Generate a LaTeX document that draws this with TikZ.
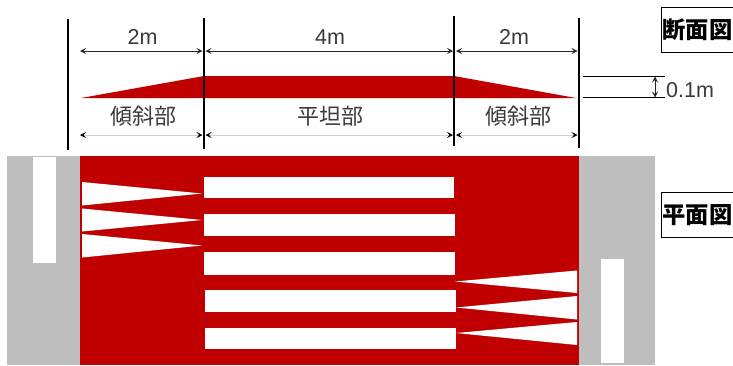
\documentclass[tikz,border=0pt]{standalone}
\usepackage{fontspec}
\setmainfont{Noto Sans CJK JP}
\newfontfamily\latinf{Liberation Sans}
\usetikzlibrary{arrows.meta}
\definecolor{roadred}{HTML}{C00000}
\definecolor{walkgrey}{HTML}{BEBEBE}
\definecolor{labelgrey}{HTML}{3A3A3A}
\tikzset{
  x=1bp,y=-1bp,
  wall/.style={line width=2bp,black},
  dim/.style={line width=0.7bp,black!85,{Stealth[length=6bp,width=6bp,inset=2.5bp]}-{Stealth[length=6bp,width=6bp,inset=2.5bp]}},
  dimlight/.style={line width=0.7bp,draw=black!18,{Stealth[length=6bp,width=6bp,inset=2.5bp,black]}-{Stealth[length=6bp,width=6bp,inset=2.5bp,black]}},
  measure/.style={font=\fontsize{21.5bp}{21.5bp}\selectfont\latinf,text=labelgrey,inner sep=0pt},
  partname/.style={font=\fontsize{22bp}{22bp}\selectfont,text=labelgrey,inner sep=0pt},
  titlebox/.style={draw=black,line width=0.9bp,fill=white,font=\fontsize{23.3bp}{23.3bp}\selectfont\bfseries,inner sep=0pt,minimum height=45bp,minimum width=73bp,anchor=west},
  whitebar/.style={fill=white,draw=none},
  reddk/.style={fill=roadred,draw=none},
  tick/.style={line width=1.2bp,black},
}
\begin{document}
\begin{tikzpicture}
\useasboundingbox (0,0) rectangle (733,365);
% plan
\fill[walkgrey] (7,156) rectangle (655,365);
\fill[reddk] (79.5,156) rectangle (579,365);
\fill[whitebar] (33,157) rectangle (56,263);
\fill[whitebar] (601,259) rectangle (624,363);
\fill[whitebar] (204,176.5) rectangle (453.5,198);
\fill[whitebar] (204,214) rectangle (454.5,236);
\fill[whitebar] (204,252) rectangle (454.5,274.5);
\fill[whitebar] (205,290) rectangle (456,312);
\fill[whitebar] (205,327.5) rectangle (456,349);
\fill[whitebar] (82,182) -- (82,205.5) -- (202,193.5) -- cycle;
\fill[whitebar] (82,208.5) -- (82,231.5) -- (202,220) -- cycle;
\fill[whitebar] (82,234) -- (82,257.5) -- (202,245.5) -- cycle;
\fill[whitebar] (577,270.5) -- (577,293) -- (455,281.5) -- cycle;
\fill[whitebar] (577,296) -- (577,319.5) -- (456,307.5) -- cycle;
\fill[whitebar] (577,322) -- (577,345) -- (456,333) -- cycle;
% section
\fill[reddk] (81,98) -- (204,76) -- (454,76) -- (576,98) -- cycle;
% walls
\coordinate (wa) at (68,51); \coordinate (wb) at (203.5,51);
\coordinate (wc) at (454,51); \coordinate (wd) at (578.5,51);
\coordinate (ba) at (68,135); \coordinate (bb) at (203.5,135);
\coordinate (bc) at (454,135); \coordinate (bd) at (578.5,135);
\draw[wall] (68,19) -- (68,150);
\draw[wall] (203.5,18) -- (203.5,149);
\draw[wall] (454,16) -- (454,146);
\draw[wall] (578.5,18) -- (578.5,148);
% dimensions
\draw[dim] ([xshift=12bp]wa) -- ([xshift=-1bp]wb);
\draw[dim] ([xshift=2bp]wb) -- ([xshift=-1bp]wc);
\draw[dim] ([xshift=2bp]wc) -- ([xshift=-1bp]wd);
\draw[dimlight] ([xshift=12bp]ba) -- ([xshift=-1bp]bb);
\draw[dimlight] ([xshift=2bp]bb) -- ([xshift=-1bp]bc);
\draw[dimlight] ([xshift=2bp]bc) -- ([xshift=-1bp]bd);
\node[measure] (d1) at (142.5,37) {2m};
\node[measure] (d2) at (330,37) {4m};
\node[measure] (d3) at (514,37) {2m};
\node[partname] (p1) at (143,116) {傾斜部};
\node[partname] (p2) at (330,116) {平坦部};
\node[partname] (p3) at (518,116) {傾斜部};
% height
\coordinate (ha) at (583,76.5); \coordinate (hb) at (665,76.5);
\coordinate (hc) at (583,97.5); \coordinate (hd) at (665,97.5);
\coordinate (he) at (655,76.5); \coordinate (hf) at (655,97.5);
\draw[tick] (ha) -- (hb);
\draw[tick] (hc) -- (hd);
\draw[dim] (he) -- (hf);
\node[measure,anchor=west] (hl) at (666,90) {0.1m};
% titles
\node[titlebox] (t1) at (660.5,29.5) {断面図};
\node[titlebox] (t2) at (660.5,215) {平面図};
\end{tikzpicture}
\end{document}
